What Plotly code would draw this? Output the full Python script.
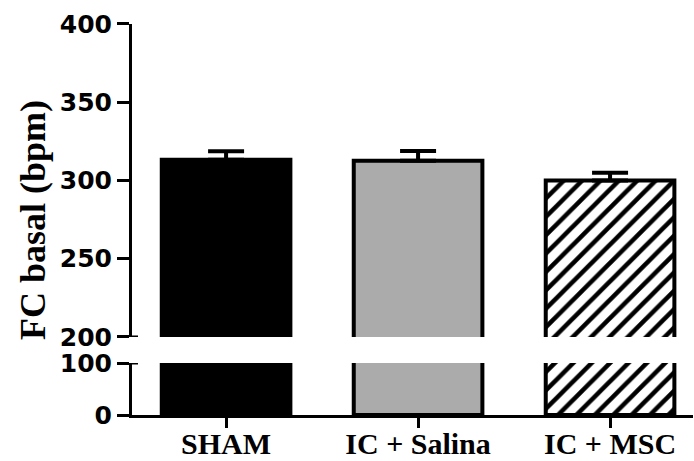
import plotly.graph_objects as go

categories = ["SHAM", "IC + Salina", "IC + MSC"]
means = [313.2, 312.6, 300.0]
sem = [5.5, 6.2, 4.9]
fill_colors = ["#000000", "#ababab", "#ffffff"]
patterns = ["", "", "/"]
upper_ticks = [200, 250, 300, 350, 400]
lower_ticks = [0, 100]

fig = go.Figure()
for i, cat in enumerate(categories):
    marker = dict(color=fill_colors[i], line=dict(color="#000000", width=4))
    if patterns[i]:
        marker["pattern"] = dict(shape=patterns[i], fgcolor="#000000", bgcolor="#ffffff",
                                 fgopacity=1, size=13, solidity=0.35, fillmode="replace")
    # lower segment
    fig.add_trace(go.Bar(x=[cat], y=[means[i]], width=0.67, marker=marker,
                         xaxis="x", yaxis="y", showlegend=False, hoverinfo="skip"))
    # upper segment
    fig.add_trace(go.Bar(x=[cat], y=[means[i]], width=0.67, marker=marker,
                         error_y=dict(type="data", array=[sem[i]], arrayminus=[0], symmetric=False,
                                      color="#000000", thickness=4, width=18),
                         xaxis="x", yaxis="y2", showlegend=False, hoverinfo="skip"))

tickfont = dict(family="DejaVu Sans", size=25, color="#000000", weight="bold")
axis_common = dict(showline=True, linewidth=3, linecolor="#000000", ticks="outside",
                   ticklen=12, tickwidth=3, tickcolor="#000000", showgrid=False,
                   zeroline=False, tickfont=tickfont)

fig.update_layout(
    width=694, height=461,
    margin=dict(l=132, r=1, t=0, b=46, autoexpand=False),
    paper_bgcolor="white", plot_bgcolor="white",
    barmode="overlay",
    xaxis=dict(type="category", categoryorder="array", categoryarray=categories,
               range=[-0.49, 2.432], showline=True, linewidth=3,
               linecolor="#000000", ticks="outside", ticklen=10, tickwidth=3,
               tickcolor="#000000", showgrid=False, anchor="y", ticklabelstandoff=-10,
               tickfont=dict(family="Liberation Serif", size=30, color="#000000", weight="bold")),
    yaxis=dict(domain=[0.0, 0.1253], range=[0, 100], tickvals=lower_ticks, anchor="x",
               **axis_common),
    yaxis2=dict(domain=[0.188, 0.9422], range=[200, 400], tickvals=upper_ticks, anchor="x",
                **axis_common),
    annotations=[dict(text="FC basal (bpm)", textangle=-90, xref="paper", yref="paper",
                      x=(33 - 132) / 561, y=(415 - 220) / 415, xanchor="center", yanchor="middle",
                      showarrow=False,
                      font=dict(family="Liberation Serif", size=36, color="#000000", weight="bold"))],
    shapes=[
        dict(type="line", xref="paper", yref="y", x0=0, x1=6 / 561, y0=100, y1=100,
             line=dict(color="#000000", width=3)),
        dict(type="line", xref="paper", yref="y2", x0=0, x1=6 / 561, y0=200, y1=200,
             line=dict(color="#000000", width=3)),
    ],
)

fig.write_html("out.html")
